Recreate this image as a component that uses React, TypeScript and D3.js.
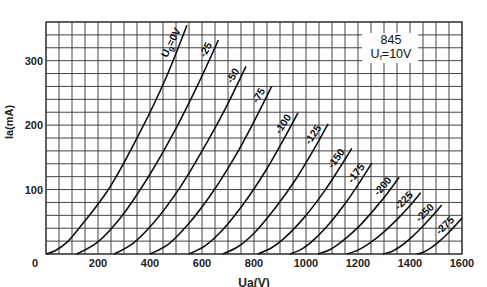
import React from "react";
import * as d3 from "d3";

// Anode voltage ticks (V) and anode current ticks (mA)
const UA_TICKS = [200, 400, 600, 800, 1000, 1200, 1400, 1600];
const IA_TICKS = [100, 200, 300];
const UA_DOMAIN = [0, 1600];
const IA_DOMAIN = [0, 360];
const UA_GRID_STEP = 50;
const IA_GRID_STEP = 20;

// Grid voltage labels for each curve
const GRID_VOLTS = ["0V", "-25", "-50", "-75", "-100", "-125", "-150", "-175", "-200", "-225", "-250", "-275"];

// Curves: [Ua (V), Ia (mA)]
const curveUg0 = [[0, 0], [35, 5], [80, 18], [131, 42], [240, 100], [368, 194], [460, 272], [542, 355]];
const curveUg25 = [[118, 0], [200, 19], [282, 54], [391, 118], [500, 195], [581, 260], [663, 332]];
const curveUg50 = [[262, 0], [336, 17], [413, 48], [515, 103], [616, 171], [693, 228], [769, 291]];
const curveUg75 = [[400, 0], [470, 15], [540, 43], [634, 92], [728, 152], [798, 204], [868, 260]];
const curveUg100 = [[550, 0], [613, 13], [676, 36], [760, 78], [843, 128], [906, 172], [969, 219]];
const curveUg125 = [[680, 0], [741, 12], [802, 33], [883, 72], [964, 118], [1024, 158], [1085, 202]];
const curveUg150 = [[815, 0], [869, 10], [923, 27], [996, 58], [1068, 96], [1122, 129], [1176, 164]];
const curveUg175 = [[938, 0], [985, 8], [1033, 23], [1096, 50], [1159, 83], [1206, 111], [1253, 141]];
const curveUg200 = [[1046, 0], [1093, 7], [1140, 20], [1202, 42], [1264, 70], [1311, 93], [1358, 119]];
const curveUg225 = [[1157, 0], [1200, 6], [1242, 16], [1299, 34], [1356, 56], [1398, 74], [1441, 95]];
const curveUg250 = [[1296, 0], [1330, 4], [1364, 12], [1409, 27], [1454, 45], [1488, 60], [1522, 76]];
const curveUg275 = [[1427, 0], [1453, 3], [1479, 9], [1514, 20], [1548, 33], [1574, 44], [1600, 56]];

const CURVES = [curveUg0, curveUg25, curveUg50, curveUg75, curveUg100, curveUg125, curveUg150, curveUg175, curveUg200, curveUg225, curveUg250, curveUg275];

const TUBE = "845";
const FILAMENT = "=10V";

const W = 487;
const H = 287;
const M = { left: 46, right: 462, top: 22, bottom: 254 };

export default function App() {
  const x = d3.scaleLinear().domain(UA_DOMAIN).range([M.left, M.right]);
  const y = d3.scaleLinear().domain(IA_DOMAIN).range([M.bottom, M.top]);
  const line = d3
    .line<number[]>()
    .x((d) => x(d[0]))
    .y((d) => y(d[1]))
    .curve(d3.curveCatmullRom.alpha(0.5));

  const vGrid = d3.range(UA_DOMAIN[0], UA_DOMAIN[1] + 1, UA_GRID_STEP);
  const hGrid = d3.range(IA_DOMAIN[0], IA_DOMAIN[1] + 1, IA_GRID_STEP);
  const font = "'Liberation Sans', Arial, sans-serif";

  return (
    <svg
      width={W}
      height={H}
      style={{ position: "absolute", left: 0, top: 0, background: "#fff" }}
      fontFamily={font}
    >
      <rect x={0} y={0} width={W} height={H} fill="#fff" />
      <g stroke="#444" strokeWidth={1}>
        {vGrid.map((v) => (
          <line key={"v" + v} x1={x(v)} x2={x(v)} y1={M.top} y2={M.bottom} />
        ))}
        {hGrid.map((v) => (
          <line key={"h" + v} x1={M.left} x2={M.right} y1={y(v)} y2={y(v)} />
        ))}
      </g>
      <rect
        x={M.left}
        y={M.top}
        width={M.right - M.left}
        height={M.bottom - M.top}
        fill="none"
        stroke="#333"
        strokeWidth={1.2}
      />
      {/* white box for tube info */}
      <rect x={362} y={33} width={56} height={30} fill="#fff" />
      <text x={391} y={44} textAnchor="middle" fontSize={12.5} fill="#111">
        {TUBE}
      </text>
      <text x={391} y={58} textAnchor="middle" fontSize={12.5} fill="#111">
        U
        <tspan fontSize={8} dy={2}>f</tspan>
        <tspan dy={-2}>{FILAMENT}</tspan>
      </text>

      {CURVES.map((c, i) => (
        <path key={"c" + i} d={line(c) || ""} fill="none" stroke="#111" strokeWidth={1.6} />
      ))}

      {CURVES.map((c, i) => {
        const n = c.length;
        const end = c[n - 1];
        const prev = c[n - 2];
        const start = c[0];
        const ex = x(end[0]);
        const ey = y(end[1]);
        const tang = Math.atan2(ey - y(prev[1]), x(end[0]) - x(prev[0]));
        const chord = Math.atan2(ey - y(start[1]), ex - x(start[0]));
        const ang = ((tang + chord) / 2) * (180 / Math.PI);
        return (
          <g key={"l" + i} transform={`translate(${ex},${ey}) rotate(${ang})`}>
            <text x={-7} y={-3} textAnchor="end" fontSize={10.5} fontWeight="bold" fill="#111">
              {i === 0 ? (
                <>
                  U<tspan fontSize={8} dy={2}>g</tspan>
                  <tspan dy={-2}>={GRID_VOLTS[i]}</tspan>
                </>
              ) : (
                GRID_VOLTS[i]
              )}
            </text>
          </g>
        );
      })}

      {/* axis tick labels */}
      <g fontSize={11} fontWeight="bold" fill="#222">
        {IA_TICKS.map((t) => (
          <text key={"yl" + t} x={M.left - 3} y={y(t) + 4} textAnchor="end">
            {t}
          </text>
        ))}
        {UA_TICKS.map((t) => (
          <text key={"xl" + t} x={x(t)} y={267} textAnchor="middle">
            {t}
          </text>
        ))}
        <text x={35} y={267} textAnchor="middle">0</text>
        <text transform={`translate(13,122) rotate(-90)`} textAnchor="middle">
          Ia(mA)
        </text>
        <text x={254} y={287} textAnchor="middle" fontSize={12}>
          Ua(V)
        </text>
      </g>
    </svg>
  );
}
